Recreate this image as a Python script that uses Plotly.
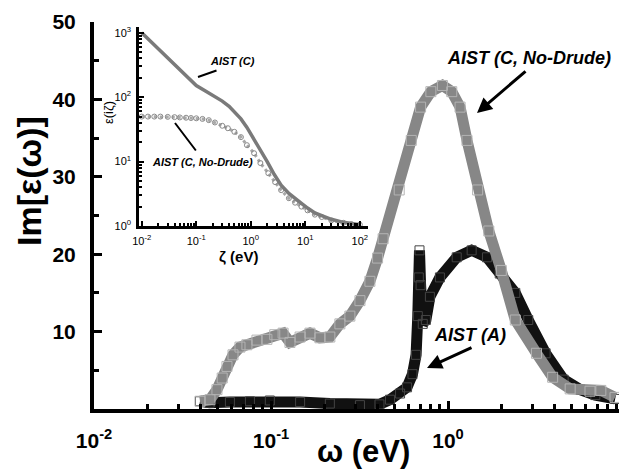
import plotly.graph_objects as go

# ---------------- data ----------------
# Main panel: Im[eps(omega)] vs omega (eV)
omega_nd = [0.0397, 0.0452, 0.0495, 0.053, 0.0564, 0.061, 0.0668, 0.0731, 0.0833, 0.0948,
            0.105, 0.117, 0.128, 0.146, 0.166, 0.189, 0.215, 0.245, 0.279, 0.318,
            0.362, 0.40, 0.43, 0.53, 0.62, 0.70, 0.80, 0.93, 1.05, 1.17,
            1.28, 1.47, 1.70, 2.0, 2.4, 3.16, 3.9, 4.9, 6.34, 7.3, 8.78]
im_nd = [1.0, 1.2, 2.5, 4.0, 5.5, 7.0, 8.0, 8.3, 8.9, 9.0,
         9.6, 9.8, 8.6, 9.3, 9.8, 9.2, 9.3, 11.0, 12.0, 14.0,
         16.5, 19.5, 22.0, 28.3, 34.7, 39.0, 41.0, 41.8, 41.0, 39.0,
         34.7, 28.3, 23.0, 17.9, 11.5, 7.2, 4.1, 2.6, 2.3, 2.4, 1.5]

omega_a = [0.0397, 0.045, 0.0586, 0.076, 0.0985, 0.146, 0.215, 0.318, 0.41, 0.47,
           0.536, 0.587, 0.63, 0.66, 0.675, 0.684, 0.69, 0.70, 0.72, 0.75,
           0.79, 0.90, 1.12, 1.36, 1.66, 1.96, 2.40, 2.84, 3.56, 4.5,
           5.6, 6.8, 8.8]
im_a = [1.0, 0.8, 0.9, 1.0, 1.1, 0.9, 0.7, 0.5, 0.6, 1.2,
        2.0, 2.8, 4.5, 7.0, 12.0, 17.0, 20.5, 16.0, 11.0, 11.5,
        14.5, 17.0, 19.6, 20.5, 19.6, 17.5, 15.0, 11.5, 7.2, 3.8,
        2.5, 1.8, 1.3]

# Inset: eps(i zeta) vs zeta (eV)
zeta_c = [0.01, 0.015, 0.02, 0.03, 0.05, 0.07, 0.1, 0.15, 0.2, 0.3, 0.4, 0.5, 0.66,
          0.85, 1.15, 1.5, 2.0, 2.7, 3.6, 5.0, 6.3, 8.5, 11, 15, 20, 30, 50, 70, 100]
eps_c = [1000, 717, 566, 400, 265, 200, 152, 124, 107, 87, 72, 60, 46,
         34, 22.5, 15.5, 10, 6.3, 4.3, 3.2, 2.7, 2.25, 1.9, 1.6, 1.45, 1.27, 1.14, 1.08, 1.05]

zeta_nd = [0.010, 0.013, 0.017, 0.022, 0.03, 0.04, 0.05, 0.065, 0.08, 0.1, 0.13, 0.17,
           0.22, 0.3, 0.38, 0.5, 0.66, 0.85, 1.15, 1.5, 2.1, 2.8, 3.6, 5.0, 6.5, 8.5,
           11, 15, 20, 30, 50, 70, 100]
eps_nd = [50, 50, 50, 50, 49.5, 49, 48.5, 48, 47.5, 47, 46, 44,
          40.5, 36, 33, 29, 24, 18, 13.5, 9.5, 6.6, 4.8, 3.6, 2.7, 2.3, 2.0,
          1.75, 1.5, 1.38, 1.22, 1.12, 1.07, 1.05]

# tick labels
x_tickvals = [0.01, 0.1, 1]
x_ticktext = ["10<sup>-2</sup>", "10<sup>-1</sup>", "10<sup>0</sup>"]
x_minor = [m * d for d in (0.01, 0.1, 1) for m in range(2, 10)]
y_tickvals = [10, 20, 30, 40, 50]
y_ticktext = ["10", "20", "30", "40", "50"]
y_minor = [5, 15, 25, 35, 45]

ix_tickvals = [0.01, 0.1, 1, 10, 100]
ix_ticktext = ["10<sup>-2</sup>", "10<sup>-1</sup>", "10<sup>0</sup>", "10<sup>1</sup>", "10<sup>2</sup>"]
ix_minor = [m * d for d in (0.01, 0.1, 1, 10) for m in range(2, 10)]
iy_tickvals = [1, 10, 100, 1000]
iy_ticktext = ["10<sup>0</sup>", "10<sup>1</sup>", "10<sup>2</sup>", "10<sup>3</sup>"]
iy_minor = [m * d for d in (1, 10, 100) for m in range(2, 10)]

# ---------------- layout geometry ----------------
W, H = 619, 472
L, R, T, B = 94, 0, 22, 63
PW, PH = W - L - R, H - T - B


def px(x):
    return (x - L) / PW


def py(y):
    return (H - B - y) / PH


FONT = "Liberation Sans, Arial, sans-serif"
GREY = "#878787"
BLACK = "#111111"

fig = go.Figure()

# main curves
fig.add_trace(go.Scatter(x=omega_a, y=im_a, mode="lines+markers",
                         line=dict(color=BLACK, width=11),
                         marker=dict(symbol="square-open", size=9, color="#444444", line=dict(width=1)),
                         showlegend=False, xaxis="x", yaxis="y"))
fig.add_trace(go.Scatter(x=omega_nd, y=im_nd, mode="lines+markers",
                         line=dict(color=GREY, width=11),
                         marker=dict(symbol="square-open", size=10, color="#b4b4b4", line=dict(width=1)),
                         showlegend=False, xaxis="x", yaxis="y"))

# inset curves
fig.add_trace(go.Scatter(x=zeta_nd, y=eps_nd, mode="lines+markers",
                         line=dict(color="#a8a8a8", width=3, dash="dot"),
                         marker=dict(symbol="circle-open", size=5, color="#8a8a8a", line=dict(width=1)),
                         showlegend=False, xaxis="x2", yaxis="y2"))
fig.add_trace(go.Scatter(x=zeta_c, y=eps_c, mode="lines",
                         line=dict(color="#7a7a7a", width=3.5),
                         showlegend=False, xaxis="x2", yaxis="y2"))

main_tick = dict(family=FONT, size=21, color="black", weight="bold")
inset_tick = dict(family=FONT, size=11, color="black")

fig.update_layout(
    width=W, height=H,
    margin=dict(l=L, r=R, t=T, b=B),
    paper_bgcolor="white", plot_bgcolor="white",
    showlegend=False,
    xaxis=dict(type="log", range=[-2.0, 0.966], domain=[0, 1],
               showline=True, linewidth=4, linecolor="black", mirror=False,
               showgrid=False, zeroline=False,
               tickmode="array", tickvals=x_tickvals, ticktext=x_ticktext,
               ticks="inside", ticklen=8, tickwidth=3, tickcolor="black",
               tickfont=main_tick, ticklabelstandoff=10,
               minor=dict(tickmode="array", tickvals=x_minor, ticks="inside",
                          ticklen=5, tickwidth=3, tickcolor="black", showgrid=False)),
    yaxis=dict(range=[0, 50], domain=[0, 1],
               showline=True, linewidth=4, linecolor="black", mirror=False,
               showgrid=False, zeroline=False,
               tickmode="array", tickvals=y_tickvals, ticktext=y_ticktext,
               ticks="inside", ticklen=8, tickwidth=3, tickcolor="black",
               tickfont=main_tick, ticklabelstandoff=10,
               minor=dict(tickmode="array", tickvals=y_minor, ticks="inside",
                          ticklen=5, tickwidth=3, tickcolor="black", showgrid=False)),
    xaxis2=dict(type="log", range=[-2.05, 2.15], domain=[px(139), px(368)], anchor="y2",
                showline=True, linewidth=2.5, linecolor="black",
                showgrid=False, zeroline=False,
                tickmode="array", tickvals=ix_tickvals, ticktext=ix_ticktext,
                ticks="inside", ticklen=5, tickwidth=2, tickcolor="black",
                tickfont=inset_tick, ticklabelstandoff=3,
                minor=dict(tickmode="array", tickvals=ix_minor, ticks="inside",
                           ticklen=3, tickwidth=1.5, tickcolor="black", showgrid=False)),
    yaxis2=dict(type="log", range=[0, 3.09], domain=[py(226), py(27)], anchor="x2",
                showline=True, linewidth=2.5, linecolor="black",
                showgrid=False, zeroline=False,
                tickmode="array", tickvals=iy_tickvals, ticktext=iy_ticktext,
                ticks="inside", ticklen=5, tickwidth=2, tickcolor="black",
                tickfont=inset_tick, ticklabelstandoff=3,
                minor=dict(tickmode="array", tickvals=iy_minor, ticks="inside",
                           ticklen=3, tickwidth=1.5, tickcolor="black", showgrid=False)),
)

ann = []
# axis titles
ann.append(dict(x=px(29), y=py(181), xref="paper", yref="paper", text="Im[ε(ω)]",
                textangle=-90, showarrow=False, xanchor="center", yanchor="middle",
                font=dict(family=FONT, size=34, color="black", weight="bold")))
ann.append(dict(x=px(363), y=py(451), xref="paper", yref="paper", text="ω (eV)",
                showarrow=False, xanchor="center", yanchor="middle",
                font=dict(family=FONT, size=31, color="black", weight="bold")))
ann.append(dict(x=px(108), y=py(113), xref="paper", yref="paper", text="ε(iζ)",
                textangle=-90, showarrow=False, xanchor="center", yanchor="middle",
                font=dict(family=FONT, size=13, color="black")))
ann.append(dict(x=px(238), y=py(256), xref="paper", yref="paper", text="ζ (eV)",
                showarrow=False, xanchor="center", yanchor="middle",
                font=dict(family=FONT, size=15, color="black", weight="bold")))

# curve labels
lab_main = dict(family=FONT, size=18, color="black", weight="bold", style="italic")
lab_in = dict(family=FONT, size=11, color="black", weight="bold", style="italic")
ann.append(dict(x=px(529), y=py(58), xref="paper", yref="paper", text="AIST (C, No-Drude)",
                showarrow=False, xanchor="center", yanchor="middle", font=lab_main))
ann.append(dict(x=px(470), y=py(335), xref="paper", yref="paper", text="AIST (A)",
                showarrow=False, xanchor="center", yanchor="middle", font=lab_main))
ann.append(dict(x=px(232), y=py(61), xref="paper", yref="paper", text="AIST (C)",
                showarrow=False, xanchor="center", yanchor="middle", font=lab_in))
ann.append(dict(x=px(202), y=py(162), xref="paper", yref="paper", text="AIST (C, No-Drude)",
                showarrow=False, xanchor="center", yanchor="middle", font=lab_in))

# arrows / pointer lines
ann.append(dict(x=px(477), y=py(113), xref="paper", yref="paper", text="", showarrow=True,
                ax=50, ay=-43, arrowhead=2, arrowsize=1, arrowwidth=3, arrowcolor="black"))
ann.append(dict(x=px(427), y=py(368), xref="paper", yref="paper", text="", showarrow=True,
                ax=46, ay=-21, arrowhead=2, arrowsize=1, arrowwidth=3, arrowcolor="black"))
ann.append(dict(x=px(198), y=py(77), xref="paper", yref="paper", text="", showarrow=True,
                ax=20, ay=-7, arrowhead=0, arrowwidth=2, arrowcolor="black"))
ann.append(dict(x=px(175), y=py(123), xref="paper", yref="paper", text="", showarrow=True,
                ax=22, ay=29, arrowhead=0, arrowwidth=2, arrowcolor="black"))

fig.update_layout(annotations=ann)

fig.write_html("out.html")
